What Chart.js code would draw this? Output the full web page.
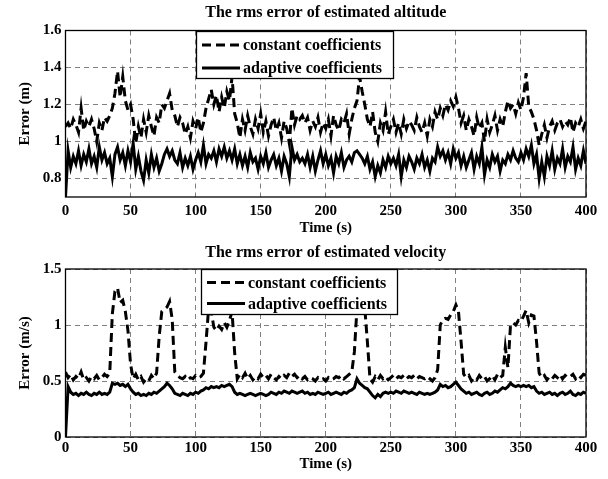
<!DOCTYPE html>
<html><head><meta charset="utf-8">
<script src="https://cdn.jsdelivr.net/npm/chart.js@4/dist/chart.umd.min.js"></script>
<style>
html,body{margin:0;padding:0;background:#fff;}
#wrap{position:relative;width:608px;height:479px;overflow:hidden;}
canvas{position:absolute;left:0;}
</style></head><body>
<div id="wrap">
<canvas id="c1" width="608" height="240" style="top:0"></canvas>
<canvas id="c2" width="608" height="239" style="top:240px"></canvas>
</div>
<script>
// ---- data ----
const time = [
0,2,4,6,8,10,12,14,16,18,20,22,24,26,28,30,32,34,36,38,
40,42,44,46,48,50,52,54,56,58,60,62,64,66,68,70,72,74,76,78,
80,82,84,86,88,90,92,94,96,98,100,102,104,106,108,110,112,114,116,118,
120,122,124,126,128,130,132,134,136,138,140,142,144,146,148,150,152,154,156,158,
160,162,164,166,168,170,172,174,176,178,180,182,184,186,188,190,192,194,196,198,
200,202,204,206,208,210,212,214,216,218,220,222,224,226,228,230,232,234,236,238,
240,242,244,246,248,250,252,254,256,258,260,262,264,266,268,270,272,274,276,278,
280,282,284,286,288,290,292,294,296,298,300,302,304,306,308,310,312,314,316,318,
320,322,324,326,328,330,332,334,336,338,340,342,344,346,348,350,352,354,356,358,
360,362,364,366,368,370,372,374,376,378,380,382,384,386,388,390,392,394,396,398,
400];

const altConstant = [
1.08,1.10,1.07,1.12,1.09,1.05,1.18,1.06,1.11,1.08,
1.12,1.07,1.00,1.10,1.06,1.13,1.11,1.14,1.18,1.26,
1.38,1.24,1.35,1.22,1.17,1.20,1.12,0.99,1.08,1.02,
1.12,1.05,1.14,1.08,1.03,1.13,1.10,1.20,1.18,1.22,
1.26,1.17,1.14,1.08,1.13,1.10,1.04,1.08,1.02,1.11,
1.07,1.13,1.05,1.10,1.18,1.23,1.28,1.20,1.25,1.16,
1.24,1.18,1.27,1.22,1.35,1.15,1.10,1.02,1.12,1.06,
1.14,1.08,1.04,1.12,1.07,1.15,1.05,1.11,1.03,1.09,
1.13,1.06,1.10,1.02,1.11,1.07,0.99,1.18,1.09,1.14,
1.12,1.14,1.10,1.13,1.06,1.11,1.08,1.13,1.05,1.10,
1.07,1.12,1.03,1.14,1.09,1.06,1.12,1.10,1.15,1.04,
1.12,1.18,1.22,1.35,1.27,1.20,1.12,1.08,1.16,1.05,
1.00,1.10,1.06,1.16,1.04,1.08,1.12,1.05,1.10,1.04,
1.12,1.07,1.11,1.09,1.06,1.13,1.08,1.05,1.10,1.03,
1.12,1.08,1.16,1.12,1.18,1.14,1.20,1.17,1.22,1.19,
1.24,1.18,1.10,1.14,1.06,1.12,1.08,1.03,1.13,1.07,
1.10,1.00,1.12,1.05,1.09,1.14,1.06,1.12,1.08,1.16,
1.22,1.18,1.20,1.15,1.21,1.17,1.24,1.37,1.19,1.16,
1.12,1.06,0.98,1.04,1.09,1.02,1.08,1.11,1.06,1.10,
1.12,1.08,1.11,1.09,1.13,1.05,1.10,1.08,1.12,1.07,
1.11];

const altAdaptive = [
0.70,0.95,0.86,0.92,0.88,0.95,0.87,0.93,0.89,0.96,
0.88,0.92,0.86,0.97,0.90,0.94,0.88,0.91,0.81,0.93,
0.97,0.90,0.94,0.87,0.95,0.89,0.99,0.85,0.92,0.84,
0.79,0.90,0.83,0.93,0.86,0.91,0.84,0.88,0.93,0.96,
0.92,0.95,0.90,0.88,0.94,0.86,0.91,0.87,0.92,0.85,
0.90,0.94,0.89,0.98,0.88,0.93,0.91,0.95,0.89,0.96,
0.92,0.97,0.91,0.95,0.90,0.96,0.88,0.93,0.87,0.92,
0.86,0.94,0.89,0.91,0.85,0.92,0.88,0.94,0.86,0.90,
0.93,0.87,0.91,0.84,0.92,0.88,0.81,0.97,0.90,0.93,
0.89,0.91,0.88,0.93,0.86,0.92,0.84,0.90,0.95,0.88,
0.93,0.87,0.91,0.83,0.92,0.88,0.94,0.86,0.90,0.92,
0.89,0.94,0.95,0.93,0.91,0.88,0.92,0.85,0.89,0.81,
0.87,0.83,0.90,0.86,0.92,0.88,0.91,0.87,0.93,0.81,
0.90,0.86,0.92,0.89,0.85,0.91,0.88,0.93,0.86,0.90,
0.84,0.91,0.89,0.97,0.92,0.95,0.90,0.94,0.88,0.96,
0.91,0.94,0.87,0.92,0.86,0.90,0.94,0.85,0.92,0.88,
0.97,0.82,0.90,0.86,0.93,0.89,0.92,0.84,0.90,0.88,
0.93,0.90,0.95,0.91,0.89,0.94,0.90,0.96,0.92,0.98,
0.88,0.93,0.80,0.89,0.81,0.92,0.87,0.95,0.85,0.91,
0.88,0.96,0.86,0.92,0.89,0.97,0.85,0.91,0.87,0.95,
0.88];

const velConstant = [
0.58,0.53,0.56,0.51,0.54,0.52,0.58,0.51,0.53,0.50,
0.54,0.52,0.55,0.51,0.53,0.56,0.54,0.57,1.10,1.30,
1.33,1.20,1.22,1.12,0.95,0.65,0.52,0.56,0.51,0.54,
0.49,0.52,0.50,0.55,0.52,0.57,0.90,1.12,1.14,1.16,
1.21,1.05,0.58,0.55,0.53,0.52,0.54,0.51,0.53,0.52,
0.55,0.53,0.54,0.57,0.85,1.15,1.12,0.98,0.95,0.99,
0.96,1.02,0.98,1.04,1.12,0.75,0.52,0.56,0.53,0.57,
0.52,0.55,0.51,0.54,0.52,0.56,0.53,0.55,0.52,0.56,
0.53,0.51,0.54,0.52,0.55,0.53,0.57,0.54,0.56,0.53,
0.55,0.52,0.54,0.51,0.53,0.52,0.50,0.53,0.51,0.52,
0.50,0.53,0.51,0.52,0.54,0.53,0.55,0.52,0.54,0.56,
0.58,0.76,1.15,1.30,1.25,1.15,0.85,0.52,0.49,0.54,
0.51,0.55,0.52,0.54,0.51,0.53,0.55,0.52,0.54,0.53,
0.55,0.52,0.54,0.53,0.55,0.52,0.54,0.53,0.52,0.54,
0.52,0.50,0.53,0.60,1.00,1.05,1.06,1.05,1.09,1.12,
1.18,1.12,0.85,0.56,0.53,0.55,0.50,0.53,0.51,0.55,
0.52,0.54,0.50,0.52,0.55,0.51,0.56,0.53,0.55,0.80,
0.62,1.00,1.02,1.00,1.04,1.03,1.08,1.13,1.02,1.09,
1.08,0.85,0.57,0.53,0.55,0.51,0.54,0.52,0.55,0.53,
0.56,0.52,0.55,0.53,0.54,0.56,0.52,0.55,0.53,0.56,
0.55];

const velAdaptive = [
0.00,0.45,0.40,0.38,0.39,0.37,0.39,0.38,0.40,0.38,
0.37,0.39,0.38,0.40,0.38,0.39,0.38,0.40,0.48,0.47,
0.48,0.46,0.47,0.45,0.47,0.43,0.40,0.38,0.39,0.37,
0.38,0.37,0.39,0.38,0.40,0.39,0.41,0.43,0.45,0.48,
0.46,0.43,0.39,0.38,0.37,0.39,0.38,0.37,0.39,0.38,
0.40,0.39,0.41,0.42,0.44,0.43,0.45,0.44,0.45,0.44,
0.46,0.45,0.46,0.47,0.45,0.40,0.38,0.39,0.38,0.37,
0.38,0.39,0.38,0.37,0.38,0.39,0.38,0.37,0.38,0.40,
0.39,0.38,0.40,0.39,0.41,0.40,0.39,0.41,0.40,0.39,
0.40,0.41,0.39,0.40,0.38,0.39,0.38,0.40,0.39,0.38,
0.39,0.40,0.38,0.39,0.40,0.39,0.38,0.40,0.39,0.41,
0.42,0.44,0.52,0.48,0.46,0.44,0.43,0.40,0.37,0.35,
0.38,0.36,0.39,0.40,0.39,0.40,0.39,0.41,0.40,0.39,
0.41,0.40,0.39,0.40,0.39,0.38,0.40,0.39,0.38,0.39,
0.38,0.39,0.40,0.42,0.47,0.45,0.46,0.44,0.45,0.47,
0.49,0.46,0.43,0.41,0.39,0.40,0.38,0.39,0.40,0.38,
0.37,0.39,0.40,0.38,0.39,0.41,0.40,0.42,0.44,0.43,
0.45,0.48,0.46,0.45,0.46,0.45,0.46,0.45,0.46,0.44,
0.45,0.41,0.39,0.40,0.38,0.39,0.40,0.38,0.39,0.37,
0.39,0.40,0.38,0.39,0.41,0.38,0.37,0.39,0.38,0.40,
0.39];

const xTicks = [0,50,100,150,200,250,300,350,400];
const altTicks = [0.8,1,1.2,1.4,1.6];
const velTicks = [0,0.5,1,1.5];
const seriesNames = ['constant coefficients','adaptive coefficients'];
const titles = ['The rms error of estimated altitude','The rms error of estimated velocity'];
const yTitles = ['Error (m)','Error (m/s)'];
const xTitle = 'Time (s)';

// ---- drawing ----
const FAMILY = '"Liberation Serif","Times New Roman",serif';
const pts = vals => time.map((t,i)=>({x:t,y:vals[i]}));

const decor = {
  id:'decor',
  afterDatasetsDraw(chart, args, o){
    const {ctx, chartArea:a} = chart;
    ctx.save();
    // legend box
    const x0 = Math.round(a.left + o.lx), y0 = Math.round(a.top + o.ly);
    ctx.fillStyle = '#fff';
    ctx.fillRect(x0, y0, o.lw, o.lh);
    ctx.strokeStyle = '#000'; ctx.lineWidth = 1.3; ctx.setLineDash([]);
    ctx.strokeRect(x0+0.5, y0+0.5, o.lw, o.lh);
    chart.data.datasets.forEach((ds,i)=>{
      const y = y0 + o.rows[i];
      ctx.beginPath();
      ctx.setLineDash(ds.borderDash || []);
      ctx.lineWidth = ds.borderWidth; ctx.strokeStyle = ds.borderColor;
      ctx.moveTo(x0+6, y); ctx.lineTo(x0+44, y); ctx.stroke();
      ctx.setLineDash([]);
      ctx.fillStyle = '#000';
      ctx.font = 'bold 16px ' + FAMILY;
      ctx.textBaseline = 'middle'; ctx.textAlign = 'left';
      ctx.fillText(ds.label, x0+47, y+1);
    });
    // frame
    ctx.strokeStyle = '#000'; ctx.lineWidth = 1.3;
    ctx.strokeRect(a.left, a.top, a.right-a.left, a.bottom-a.top);
    ctx.restore();
  },
  afterDraw(chart, args, o){
    const {ctx, chartArea:a} = chart;
    ctx.save();
    ctx.fillStyle = '#000';
    ctx.font = 'bold 16px ' + FAMILY;
    ctx.textAlign = 'center'; ctx.textBaseline = 'middle';
    ctx.fillText(o.title, (a.left+a.right)/2, o.titleY);
    ctx.restore();
  }
};

function makeChart(id, cfg){
  const font = {family: FAMILY, size: 15, weight: 'bold'};
  return new Chart(document.getElementById(id), {
    type: 'line',
    data: {datasets: [
      {label: seriesNames[0], data: pts(cfg.constant), borderColor:'#000', borderWidth:3, borderDash:[9,5], pointRadius:0, fill:false, tension:0},
      {label: seriesNames[1], data: pts(cfg.adaptive), borderColor:'#000', borderWidth:3, pointRadius:0, fill:false, tension:0}
    ]},
    options: {
      responsive:false, animation:false, devicePixelRatio:1,
      layout: {padding: {top: cfg.areaTop, right: 22, left: 0, bottom: 0}},
      plugins: {
        legend:{display:false}, tooltip:{enabled:false}, title:{display:false},
        decor: {title: cfg.title, titleY: cfg.titleY, lx: cfg.lx, ly: 0, lw: cfg.lw, lh: cfg.lh, rows: cfg.rows}
      },
      scales: {
        x: {
          type:'linear', min:0, max:400,
          afterBuildTicks: s => { s.ticks = xTicks.map(v=>({value:v})); },
          afterFit: s => { s.height = cfg.xAxisH; },
          grid: {color:'#808080', lineWidth:1, drawTicks:false},
          border: {display:false, dash:[5,4]},
          ticks: {color:'#000', font, padding: cfg.xTickPad, maxRotation:0, autoSkip:false, callback: v => String(v)},
          title: {display:true, text:xTitle, color:'#000', font, padding:{top:0, bottom: cfg.xTitlePad}}
        },
        y: {
          type:'linear', min: cfg.ymin, max: cfg.ymax,
          afterBuildTicks: s => { s.ticks = cfg.yTicks.map(v=>({value:v})); },
          afterFit: s => { s.width = 65.5; },
          grid: {color:'#808080', lineWidth:1, drawTicks:false},
          border: {display:false, dash:[5,4]},
          ticks: {color:'#000', font, padding:4, autoSkip:false, callback: v => String(v)},
          title: {display:true, text: cfg.yTitle, color:'#000', font, padding:{top:16, bottom:0}}
        }
      }
    },
    plugins: [decor]
  });
}

makeChart('c1', {
  constant: altConstant, adaptive: altAdaptive, yTicks: altTicks, ymin:0.7, ymax:1.6,
  yTitle: yTitles[0], title: titles[0], titleY: 13, areaTop: 30.5, xAxisH: 43,
  xTickPad: 5, xTitlePad: 3, lx: 130, lw: 197, lh: 47, rows: [14, 37]
});
makeChart('c2', {
  constant: velConstant, adaptive: velAdaptive, yTicks: velTicks, ymin:0, ymax:1.5,
  yTitle: yTitles[1], title: titles[1], titleY: 13, areaTop: 29, xAxisH: 42,
  xTickPad: 2, xTitlePad: 6, lx: 135.5, lw: 196, lh: 45, rows: [13.5, 34.5]
});
</script>
</body></html>
